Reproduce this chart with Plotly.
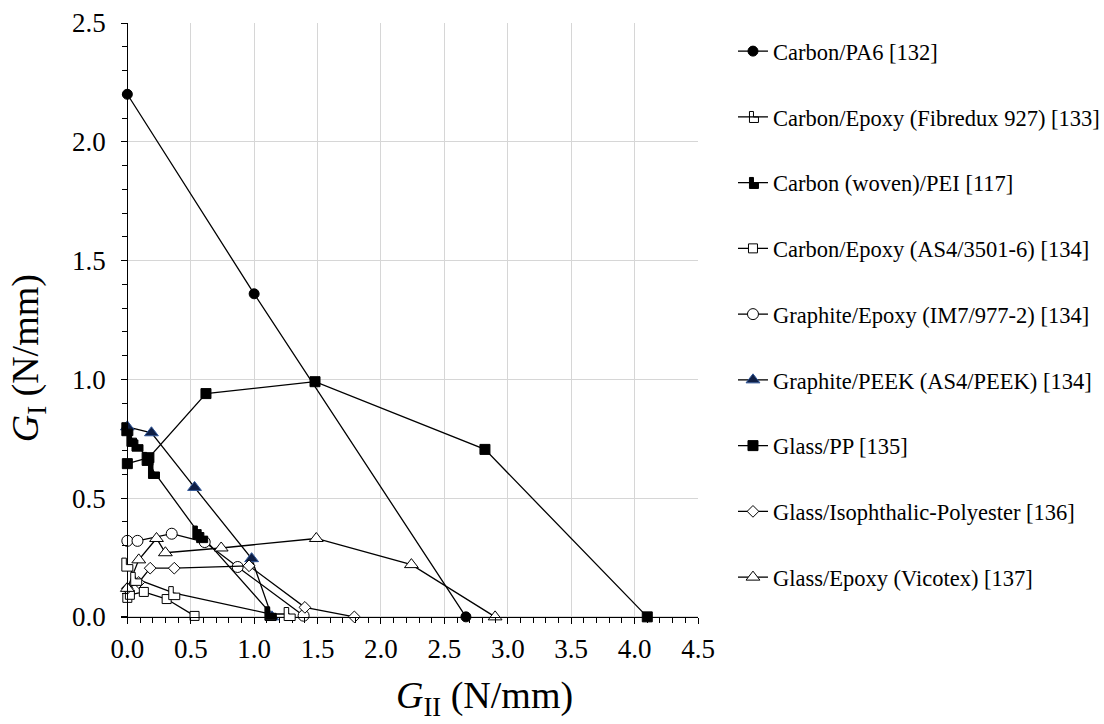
import plotly.graph_objects as go

# ---------------- data ----------------
names = [
    "Carbon/PA6 [132]",
    "Carbon/Epoxy (Fibredux 927) [133]",
    "Carbon (woven)/PEI [117]",
    "Carbon/Epoxy (AS4/3501-6) [134]",
    "Graphite/Epoxy (IM7/977-2) [134]",
    "Graphite/PEEK (AS4/PEEK) [134]",
    "Glass/PP [135]",
    "Glass/Isophthalic-Polyester [136]",
    "Glass/Epoxy (Vicotex) [137]",
]

pa6_x = [0.0, 1.0, 2.67]
pa6_y = [2.20, 1.36, 0.0]

fib_x = [0.0, 0.07, 0.37, 1.13, 1.28]
fib_y = [0.22, 0.16, 0.10, 0.012, 0.012]

pei_x = [0.0, 0.04, 0.08, 0.16, 0.21, 0.56, 0.59, 1.13]
pei_y = [0.79, 0.745, 0.725, 0.665, 0.61, 0.355, 0.34, 0.015]

as4_x = [0.0, 0.02, 0.13, 0.31, 0.53]
as4_y = [0.08, 0.093, 0.105, 0.075, 0.004]

im7_x = [0.0, 0.08, 0.35, 0.61, 0.87, 1.39]
im7_y = [0.32, 0.32, 0.35, 0.315, 0.21, 0.005]

peek_x = [0.0, 0.19, 0.53, 0.98, 1.14]
peek_y = [0.80, 0.775, 0.545, 0.245, 0.0]

pp_x = [0.0, 0.17, 0.62, 1.48, 2.82, 4.10]
pp_y = [0.645, 0.67, 0.94, 0.99, 0.705, 0.0]

iso_x = [0.0, 0.09, 0.18, 0.37, 0.96, 1.40, 1.79]
iso_y = [0.12, 0.145, 0.205, 0.205, 0.215, 0.04, 0.0]

vic_x = [0.0, 0.09, 0.23, 0.30, 0.74, 1.49, 2.24, 2.90]
vic_y = [0.12, 0.24, 0.33, 0.27, 0.29, 0.33, 0.22, 0.0]

x_range = [-0.05, 4.5]
y_range = [-0.03, 2.5]

# ---------------- figure ----------------
FONT = "Liberation Serif, DejaVu Serif, serif"
W, H = 1104, 724
ML, MR, MT, MB = 120.66, 406, 23, 99.87
PW, PH = W - ML - MR, H - MT - MB

fig = go.Figure()


def add(name, xs, ys, symbol=None, size=10, fill="black", edge="black", mode="lines+markers"):
    fig.add_trace(go.Scatter(
        x=xs, y=ys, name=name, mode=mode, legendgroup=name,
        line=dict(color="black", width=1.3),
        marker=dict(symbol=symbol, size=size, color=fill, line=dict(color=edge, width=1)),
        cliponaxis=False,
    ))


add(names[0], pa6_x, pa6_y, "circle", 10, "black")
add(names[1], fib_x, fib_y, mode="lines")
add(names[2], pei_x, pei_y, mode="lines")
add(names[3], as4_x, as4_y, "square", 9, "white")
add(names[4], im7_x, im7_y, "circle", 11, "white")
add(names[5], peek_x, peek_y, "triangle-up", 12, "#0f1f45", "#2f5597")
add(names[6], pp_x, pp_y, "square", 10, "black")
add(names[7], iso_x, iso_y, "diamond", 9, "white")
add(names[8], vic_x, vic_y, "triangle-up", 12, "white")


# L-shaped markers (pixel sized, anchored at the data points)
def l_path(a=5.5, b=6.5, c=-1.0):
    return f"M{-a},{b} L{c},{b} L{c},0 L{a},0 L{a},{-b} L{-a},{-b} Z"


shapes = []
for xs, ys, fillc in [(fib_x, fib_y, "white"), (pei_x, pei_y, "black")]:
    for xv, yv in zip(xs, ys):
        shapes.append(dict(
            type="path", xref="x", yref="y", xsizemode="pixel", ysizemode="pixel",
            xanchor=xv, yanchor=yv, path=l_path(), fillcolor=fillc,
            line=dict(color="black", width=1), layer="above",
        ))

# legend symbols for the two L-marker series (legend decoration, paper coords)
LEG_LEFT = 733
LEG_TOP = 30
LEG_STEP = 66.0
LEG_SYM_X = LEG_LEFT + 21
for idx, fillc in [(1, "white"), (2, "black")]:
    yc = LEG_TOP + 21 + LEG_STEP * idx
    shapes.append(dict(
        type="path", xref="paper", yref="paper", xsizemode="pixel", ysizemode="pixel",
        xanchor=(LEG_SYM_X - ML) / PW, yanchor=(H - MB - yc) / PH,
        path=l_path(4.5, 5.5, -0.5), fillcolor=fillc,
        line=dict(color="black", width=1), layer="above",
    ))

fig.update_layout(
    width=W, height=H,
    margin=dict(l=ML, r=MR, t=MT, b=MB, pad=0, autoexpand=False),
    paper_bgcolor="white", plot_bgcolor="white",
    font=dict(family=FONT, color="black", size=27),
    showlegend=True,
    legend=dict(
        x=(LEG_LEFT - ML) / PW, xanchor="left",
        y=(H - MB - LEG_TOP) / PH, yanchor="top",
        font=dict(family=FONT, size=22.5, color="black"),
        bgcolor="rgba(0,0,0,0)", tracegroupgap=33.5,
        itemsizing="trace",
    ),
    shapes=shapes,
    xaxis=dict(
        range=x_range, anchor="free", position=(0 - y_range[0]) / (y_range[1] - y_range[0]),
        showline=True, linecolor="black", linewidth=1.3,
        showgrid=True, gridcolor="#d6d6d6", gridwidth=1.2, zeroline=False,
        tick0=0, dtick=0.5, tickformat=".1f", ticks="outside", ticklen=6, tickcolor="black",
        minor=dict(dtick=0.1, ticks="outside", ticklen=5, tickcolor="black", showgrid=False),
        tickfont=dict(family=FONT, size=27), ticklabelstandoff=2,
    ),
    yaxis=dict(
        range=y_range, anchor="free", position=(0 - x_range[0]) / (x_range[1] - x_range[0]),
        showline=True, linecolor="black", linewidth=1.3,
        showgrid=True, gridcolor="#d6d6d6", gridwidth=1.2, zeroline=False,
        tick0=0, dtick=0.5, tickformat=".1f", ticks="outside", ticklen=6, tickcolor="black",
        minor=dict(dtick=0.1, ticks="outside", ticklen=5, tickcolor="black", showgrid=False),
        tickfont=dict(family=FONT, size=27), ticklabelstandoff=10,
    ),
    annotations=[
        dict(text="<i>G</i><sub>I</sub> (N/mm)", xref="paper", yref="paper",
             x=(28 - ML) / PW, y=(H - MB - 358) / PH,
             xanchor="center", yanchor="middle", textangle=-90, showarrow=False,
             font=dict(family=FONT, size=38)),
        dict(text="<i>G</i><sub>II</sub> (N/mm)", xref="paper", yref="paper",
             x=(484 - ML) / PW, y=(H - MB - 698) / PH,
             xanchor="center", yanchor="middle", showarrow=False,
             font=dict(family=FONT, size=38)),
    ],
)

fig.write_html("out.html")
